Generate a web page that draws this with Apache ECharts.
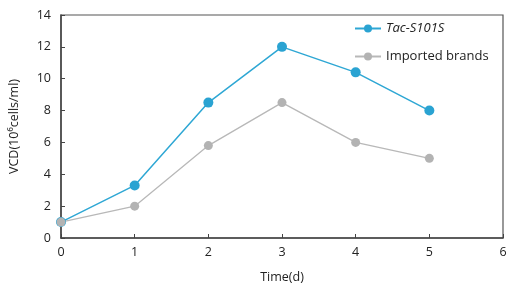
<!DOCTYPE html>
<html><head><meta charset="utf-8">
<script src="https://cdn.jsdelivr.net/npm/echarts@6/dist/echarts.min.js"></script>
<style>html,body{margin:0;padding:0;background:#fff}#c{width:522px;height:292px}</style>
</head><body><div id="c"></div>
<script>
const days = [0, 1, 2, 3, 4, 5];
const tacValues = [1.0, 3.3, 8.5, 12.0, 10.4, 8.0];
const importedValues = [1.0, 2.0, 5.8, 8.5, 6.0, 5.0];
const seriesNames = ['Tac-S101S', 'Imported brands'];
const xTicks = [0, 1, 2, 3, 4, 5, 6];
const yTicks = [0, 2, 4, 6, 8, 10, 12, 14];

const font = '"Open Sans", "Liberation Sans", sans-serif';
const chart = echarts.init(document.getElementById('c'), null, {renderer: 'canvas'});
chart.setOption({
  animation: false,
  grid: {left: 61, right: 19, top: 15, bottom: 54, show: true, borderColor: '#555', borderWidth: 1.2},
  legend: {
    orient: 'vertical', left: 349, top: 17, itemGap: 15, itemWidth: 26, itemHeight: 10,
    data: seriesNames,
    formatter: n => n === seriesNames[0] ? '{i|' + n + '}' : n,
    textStyle: {fontFamily: font, fontSize: 13, color: '#222', rich: {i: {fontStyle: 'italic', fontSize: 13, fontFamily: font, color: '#222'}}}
  },
  xAxis: {
    type: 'value', min: xTicks[0], max: xTicks[xTicks.length - 1], interval: 1,
    name: 'Time(d)', nameLocation: 'middle', nameGap: 33,
    nameTextStyle: {fontFamily: font, fontSize: 12.5, color: '#222'},
    axisLine: {show: true, onZero: false, lineStyle: {color: '#444', width: 1.5}},
    axisTick: {show: true, inside: true, length: 4, lineStyle: {color: '#444'}},
    axisLabel: {fontFamily: font, fontSize: 12.5, color: '#222', margin: 8},
    splitLine: {show: false}
  },
  yAxis: {
    type: 'value', min: yTicks[0], max: yTicks[yTicks.length - 1], interval: 2,
    name: 'VCD(10⁶cells/ml)', nameLocation: 'middle', nameGap: 40,
    nameTextStyle: {fontFamily: font, fontSize: 12.5, color: '#222'},
    axisLine: {show: true, onZero: false, lineStyle: {color: '#444', width: 1.5}},
    axisTick: {show: true, inside: true, length: 4, lineStyle: {color: '#444'}},
    axisLabel: {fontFamily: font, fontSize: 12.5, color: '#222', margin: 10},
    splitLine: {show: false}
  },
  series: [
    {
      name: seriesNames[0], type: 'line', symbol: 'circle', symbolSize: 10,
      data: days.map((d, i) => [d, tacValues[i]]),
      lineStyle: {color: '#2ea7d4', width: 1.5}, itemStyle: {color: '#2aa3d2'}
    },
    {
      name: seriesNames[1], type: 'line', symbol: 'circle', symbolSize: 9,
      data: days.map((d, i) => [d, importedValues[i]]),
      lineStyle: {color: '#b8b8b8', width: 1.3}, itemStyle: {color: '#b3b3b3'}
    }
  ]
});
</script></body></html>
